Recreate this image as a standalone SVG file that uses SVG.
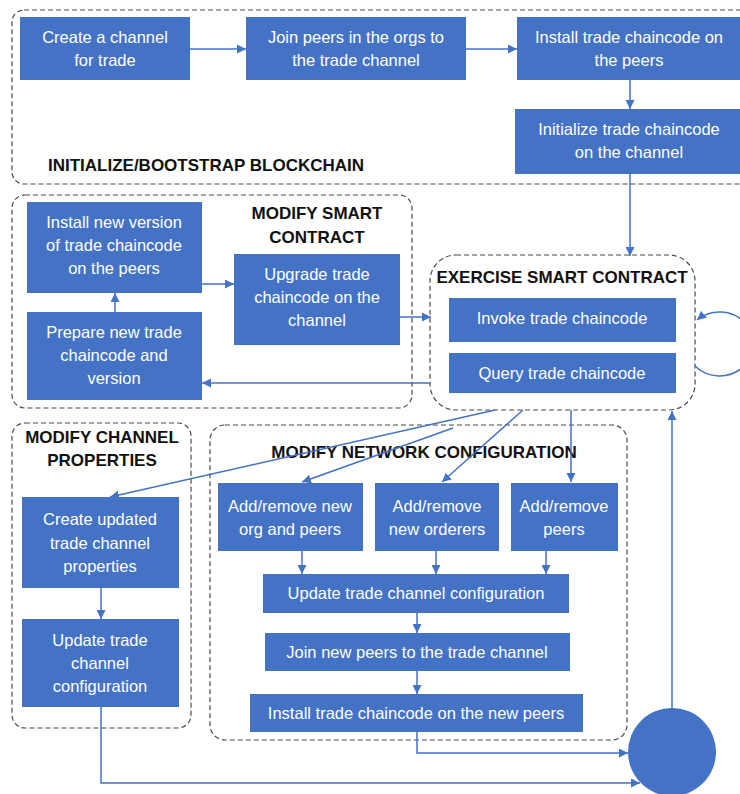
<svg xmlns="http://www.w3.org/2000/svg" width="740" height="794" viewBox="0 0 740 794">
  <style>
    .box { fill: #4472C4; }
    .txt { font-family: "Liberation Sans", Arial, sans-serif; font-size: 16.5px; fill: #ffffff; text-anchor: middle; dominant-baseline: central; }
    .lbl { font-family: "Liberation Sans", Arial, sans-serif; font-size: 17px; font-weight: bold; fill: #111111; text-anchor: middle; dominant-baseline: central; }
    .grp { fill: none; stroke: #4a4a4a; stroke-width: 1.2; stroke-dasharray: 5 3; }
    .con { fill: none; stroke: #4472C4; stroke-width: 1.5; }
    .arr { marker-end: url(#head); }
  </style>
  <defs>
    <marker id="head" viewBox="0 0 10 10" refX="10" refY="5" markerWidth="9" markerHeight="9" markerUnits="userSpaceOnUse" orient="auto">
      <path d="M0,0 L10,5 L0,10 z" fill="#4472C4"/>
    </marker>
  </defs>

  <rect width="740" height="794" fill="#ffffff"/>

  <!-- group outlines -->
  <g id="groups">
    <rect id="grp-init" class="grp" x="12" y="10" width="760" height="174" rx="12"/>
    <rect id="grp-modify-sc" class="grp" x="12" y="195" width="400" height="213" rx="13"/>
    <rect id="grp-exercise" class="grp" x="430" y="255" width="265" height="155" rx="26"/>
    <rect id="grp-channel" class="grp" x="12" y="423" width="179" height="305" rx="13"/>
    <rect id="grp-network" class="grp" x="210" y="425" width="417" height="315" rx="15"/>
    <text class="lbl" x="206" y="165">INITIALIZE/BOOTSTRAP BLOCKCHAIN</text>
    <text class="lbl" x="317" y="213">MODIFY SMART</text>
    <text class="lbl" x="317" y="237">CONTRACT</text>
    <text class="lbl" x="562" y="277">EXERCISE SMART CONTRACT</text>
    <text class="lbl" x="102" y="437">MODIFY CHANNEL</text>
    <text class="lbl" x="102" y="460">PROPERTIES</text>
    <text class="lbl" x="424" y="452">MODIFY NETWORK CONFIGURATION</text>
  </g>

  <!-- connectors -->
  <g id="connectors">
    <path class="con arr" d="M190,49 H246"/>
    <path class="con arr" d="M466,49 H517"/>
    <path class="con arr" d="M630,80 V109"/>
    <path class="con arr" d="M630,174 V256"/>
    <path class="con arr" d="M115,312 V293"/>
    <path class="con arr" d="M202,284 H234"/>
    <path class="con arr" d="M400,317 H431"/>
    <path class="con arr" d="M430,383 H202"/>
    <path class="con arr" d="M695,366 A34 32 0 1 0 697,320"/>
    <path class="con arr" d="M495,410 L110,497"/>
    <path class="con arr" d="M453,428 L302,482"/>
    <path class="con arr" d="M523,410 L442,482"/>
    <path class="con arr" d="M571,410 V482"/>
    <path class="con arr" d="M302,551 V574"/>
    <path class="con arr" d="M436,551 V574"/>
    <path class="con arr" d="M546,551 V574"/>
    <path class="con arr" d="M417,613 V633"/>
    <path class="con arr" d="M417,671 V694"/>
    <path class="con arr" d="M101,588 V619"/>
    <path class="con arr" d="M417,732 V753 H628"/>
    <path class="con arr" d="M101,707 V783 H640"/>
    <path class="con arr" d="M672,709 V411"/>
  </g>

  <!-- nodes -->
  <g id="n-create-channel">
    <rect class="box" x="20" y="17" width="170" height="63"/>
    <text class="txt" x="105" y="37">Create a channel</text>
    <text class="txt" x="105" y="60">for trade</text>
  </g>
  <g id="n-join-peers">
    <rect class="box" x="246" y="17" width="220" height="63"/>
    <text class="txt" x="356" y="37">Join peers in the orgs to</text>
    <text class="txt" x="356" y="60">the trade channel</text>
  </g>
  <g id="n-install-cc">
    <rect class="box" x="517" y="17" width="223" height="63"/>
    <text class="txt" x="629" y="37">Install trade chaincode on</text>
    <text class="txt" x="629" y="60">the peers</text>
  </g>
  <g id="n-init-cc">
    <rect class="box" x="515" y="109" width="225" height="65"/>
    <text class="txt" x="629" y="129">Initialize trade chaincode</text>
    <text class="txt" x="629" y="152">on the channel</text>
  </g>
  <g id="n-install-new-version">
    <rect class="box" x="27" y="202" width="175" height="91"/>
    <text class="txt" x="114" y="222">Install new version</text>
    <text class="txt" x="114" y="245">of trade chaincode</text>
    <text class="txt" x="114" y="268">on the peers</text>
  </g>
  <g id="n-prepare-cc">
    <rect class="box" x="27" y="312" width="175" height="88"/>
    <text class="txt" x="114" y="332">Prepare new trade</text>
    <text class="txt" x="114" y="355">chaincode and</text>
    <text class="txt" x="114" y="378">version</text>
  </g>
  <g id="n-upgrade-cc">
    <rect class="box" x="234" y="254" width="166" height="91"/>
    <text class="txt" x="317" y="274">Upgrade trade</text>
    <text class="txt" x="317" y="297">chaincode on the</text>
    <text class="txt" x="317" y="320">channel</text>
  </g>
  <g id="n-invoke-cc">
    <rect class="box" x="449" y="298" width="227" height="44"/>
    <text class="txt" x="562" y="318">Invoke  trade chaincode</text>
  </g>
  <g id="n-query-cc">
    <rect class="box" x="449" y="353" width="227" height="40"/>
    <text class="txt" x="562" y="373">Query trade chaincode</text>
  </g>
  <g id="n-create-updated">
    <rect class="box" x="22" y="497" width="157" height="91"/>
    <text class="txt" x="100" y="519">Create updated</text>
    <text class="txt" x="100" y="543">trade channel</text>
    <text class="txt" x="100" y="566">properties</text>
  </g>
  <g id="n-update-channel-cfg">
    <rect class="box" x="22" y="619" width="157" height="88"/>
    <text class="txt" x="100" y="640">Update trade</text>
    <text class="txt" x="100" y="663">channel</text>
    <text class="txt" x="100" y="686">configuration</text>
  </g>
  <g id="n-add-org">
    <rect class="box" x="218" y="483" width="145" height="68"/>
    <text class="txt" x="290" y="506">Add/remove new</text>
    <text class="txt" x="290" y="529">org and peers</text>
  </g>
  <g id="n-add-orderers">
    <rect class="box" x="375" y="483" width="124" height="68"/>
    <text class="txt" x="437" y="506">Add/remove</text>
    <text class="txt" x="437" y="529">new orderers</text>
  </g>
  <g id="n-add-peers">
    <rect class="box" x="511" y="483" width="107" height="68"/>
    <text class="txt" x="564" y="506">Add/remove</text>
    <text class="txt" x="564" y="529">peers</text>
  </g>
  <g id="n-update-cfg">
    <rect class="box" x="263" y="574" width="306" height="39"/>
    <text class="txt" x="416" y="593">Update trade channel  configuration</text>
  </g>
  <g id="n-join-new-peers">
    <rect class="box" x="265" y="633" width="305" height="38"/>
    <text class="txt" x="417" y="652">Join new peers to the trade channel</text>
  </g>
  <g id="n-install-new-peers">
    <rect class="box" x="250" y="694" width="333" height="38"/>
    <text class="txt" x="416" y="713">Install trade chaincode on the new peers</text>
  </g>
  <g id="n-end">
    <circle cx="672" cy="752" r="44" fill="#4472C4"/>
  </g>
</svg>
